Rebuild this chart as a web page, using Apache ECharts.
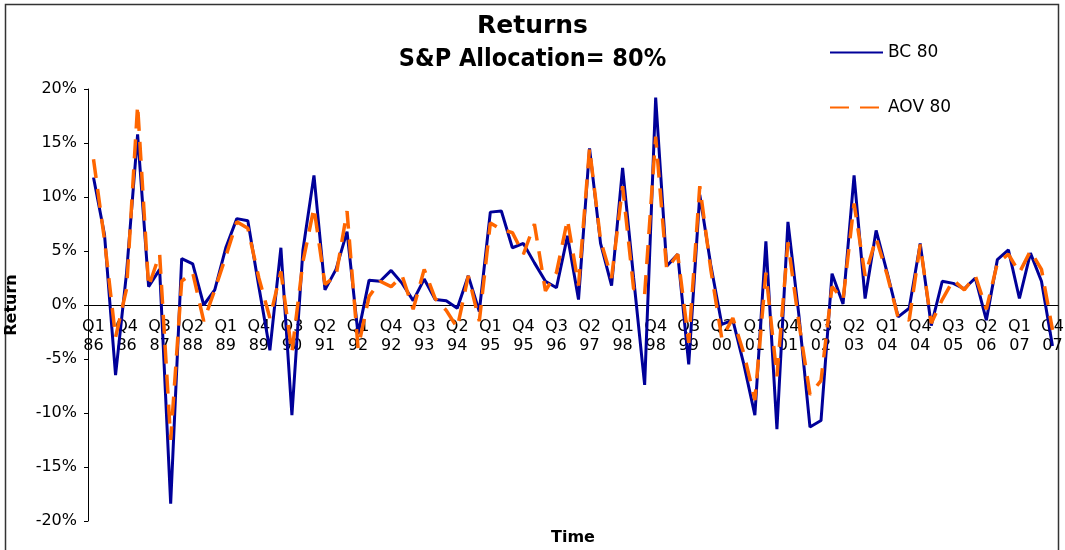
<!DOCTYPE html>
<html>
<head>
<meta charset="utf-8">
<script src="https://cdn.jsdelivr.net/npm/echarts@6/dist/echarts.min.js"></script>
<style>
  html, body { margin: 0; padding: 0; background: #fff; }
  #chart { width: 1065px; height: 550px; }
</style>
</head>
<body>
<div id="chart"></div>
<script>
  // quarters x years -> categories (Q1 86 ... Q4 07)
  var quarters = ['Q1', 'Q2', 'Q3', 'Q4']
  var years = ['86', '87', '88', '89', '90', '91', '92', '93', '94', '95', '96',
    '97', '98', '99', '00', '01', '02', '03', '04', '05', '06', '07']
  var categories = []
  years.forEach(function (y) {
    quarters.forEach(function (q) { categories.push(q + ' ' + y) })
  })

  // returns in %
  var bc80 = [11.8, 6.5, -6.5, 3.0, 15.8, 1.7, 3.3, -18.4, 4.3, 3.8,
    0.0, 1.4, 5.3, 8.0, 7.8, 1.7, -4.2, 5.3, -10.2, 5.1,
    12.0, 1.4, 3.3, 6.8, -2.7, 2.3, 2.2, 3.2, 2.0, 0.4,
    2.4, 0.5, 0.4, -0.3, 2.7, -0.6, 8.6, 8.7, 5.3, 5.7,
    3.9, 2.2, 1.6, 6.4, 0.5, 14.5, 5.7, 1.8, 12.7, 2.5,
    -7.4, 19.2, 3.6, 4.7, -5.5, 10.2, 3.7, -1.8, -1.4, -5.5,
    -10.2, 5.9, -11.5, 7.7, -1.0, -11.3, -10.7, 2.9, 0.1, 12.0,
    0.6, 6.9, 3.0, -1.1, -0.3, 5.7, -1.9, 2.2, 2.0, 1.5,
    2.5, -1.4, 4.2, 5.1, 0.6, 4.8, 2.2, -3.8]
  var aov80 = [13.5, 6.0, -3.0, 1.5, 18.5, 1.7, 4.7, -12.5, 2.2, 3.0,
    -1.5, 1.4, 4.5, 7.7, 7.1, 2.5, -1.2, 3.1, -4.4, 4.0,
    9.0, 1.9, 2.7, 8.7, -4.0, 0.8, 2.2, 1.7, 2.7, -0.4,
    3.3, 0.6, -0.5, -2.1, 2.7, -1.5, 7.6, 7.0, 6.7, 4.7,
    7.5, 1.3, 3.0, 7.9, 1.8, 14.5, 6.0, 2.5, 11.0, 1.5,
    1.0, 15.6, 3.3, 4.7, -3.5, 11.0, 3.3, -3.1, -1.2, -4.5,
    -8.8, 3.0, -6.6, 5.8, -1.7, -8.3, -7.0, 1.7, 0.5, 9.4,
    2.7, 6.2, 2.8, -1.2, -1.4, 5.6, -1.7, 0.5, 2.3, 1.4,
    2.7, -0.4, 3.9, 4.7, 3.0, 5.0, 3.3, -2.3]

  var font = 'DejaVu Sans'
  var gridTop = 89
  var gridBottom = 29
  var chartH = 550
  // x axis sits on the 0% line (middle of -20..20), shift it up from grid bottom
  var xOffset = -((chartH - gridBottom - gridTop) / 2)

  var chart = echarts.init(document.getElementById('chart'))

  var option = {
    animation: false,
    backgroundColor: '#fff',
    title: [{
      text: 'Returns',
      left: 'center',
      top: 9,
      textStyle: { fontFamily: font, fontSize: 25, fontWeight: 'bold', color: '#000' }
    }, {
      text: 'S&P Allocation= 80%',
      left: 'center',
      top: 42,
      textStyle: { fontFamily: '"DejaVu Sans Condensed", "DejaVu Sans"', fontSize: 25, fontWeight: 'bold', color: '#000' }
    }],
    legend: {
      orient: 'vertical',
      left: 824,
      top: 39,
      itemWidth: 53,
      itemHeight: 14,
      itemGap: 38,
      itemStyle: { opacity: 0 },
      textStyle: { fontFamily: font, fontSize: 17, color: '#000' },
      data: ['BC 80', 'AOV 80']
    },
    grid: { left: 88, right: 7, top: gridTop, bottom: gridBottom, outerBoundsMode: 'none' },
    xAxis: {
      type: 'category',
      data: categories,
      boundaryGap: true,
      offset: xOffset,
      axisLine: { onZero: false, lineStyle: { color: '#000', width: 1 } },
      axisTick: { interval: 0, length: 4, lineStyle: { color: '#000' } },
      axisLabel: {
        interval: 2,
        margin: 12,
        color: '#000',
        fontFamily: font,
        fontSize: 16,
        lineHeight: 19,
        formatter: function (v) { return v.replace(' ', '\n') }
      },
      splitLine: { show: false }
    },
    yAxis: {
      type: 'value',
      min: -20,
      max: 20,
      interval: 5,
      name: 'Return',
      nameLocation: 'middle',
      nameRotate: 90,
      nameGap: 68,
      nameTextStyle: { fontFamily: font, fontSize: 16, fontWeight: 'bold', color: '#000' },
      axisLine: { show: true, onZero: false, lineStyle: { color: '#000', width: 1 } },
      axisTick: { show: true, length: 4, lineStyle: { color: '#000' } },
      axisLabel: { formatter: '{value}%', color: '#000', fontFamily: font, fontSize: 16, margin: 11 },
      splitLine: { show: false }
    },
    graphic: [{
      type: 'text',
      x: 573,
      y: 538,
      style: {
        text: 'Time',
        align: 'center',
        verticalAlign: 'middle',
        font: 'bold 16px "DejaVu Sans"',
        fill: '#000'
      }
    }, {
      // outer chart border
      type: 'rect',
      shape: { x: 5.5, y: 4.5, width: 1053, height: 600 },
      style: { fill: 'none', stroke: '#333', lineWidth: 1.5 },
      silent: true
    }],
    series: [{
      name: 'BC 80',
      type: 'line',
      data: bc80,
      symbol: 'none',
      lineStyle: { color: '#000099', width: 3 },
      itemStyle: { color: '#000099' }
    }, {
      name: 'AOV 80',
      type: 'line',
      data: aov80,
      symbol: 'none',
      lineStyle: { color: '#FF6600', width: 3.5, type: [19, 11] },
      itemStyle: { color: '#FF6600' }
    }]
  }
  chart.setOption(option)
</script>
</body>
</html>
